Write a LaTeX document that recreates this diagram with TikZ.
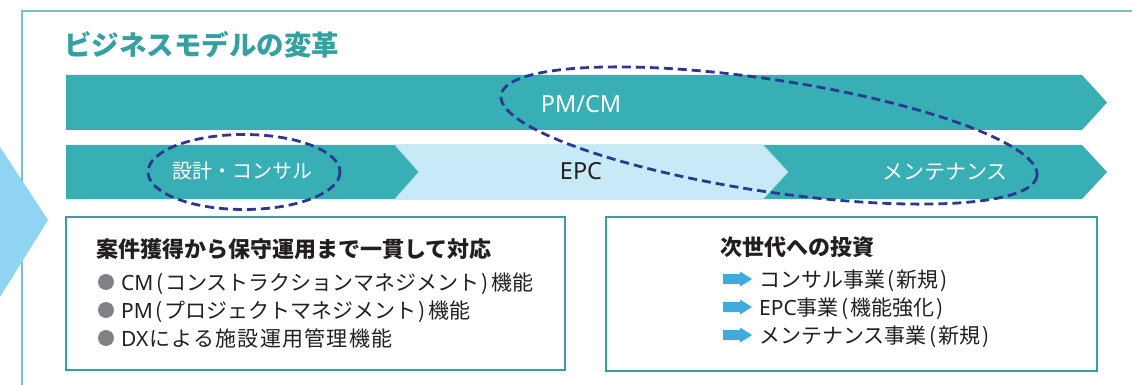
\documentclass[tikz,border=0pt]{standalone}
\usepackage{fontspec}
\setmainfont{Noto Sans CJK JP}
\newfontfamily\lat{Noto Sans}
\newfontfamily\widecjk{Noto Sans CJK JP}[LetterSpace=6]
\newcommand\myLP{\kern2.5pt(\kern2pt}
\newcommand\myRP{\kern2pt)\kern2.5pt}
\definecolor{bandteal}{HTML}{38AEB5}
\definecolor{epcblue}{HTML}{C8E9F8}
\definecolor{tri}{HTML}{8FD5F3}
\definecolor{framec}{HTML}{7CC0C3}
\definecolor{titlec}{HTML}{35A0A2}
\definecolor{boxc}{HTML}{3A9E9F}
\definecolor{navy}{HTML}{2B3A8F}
\definecolor{bulletc}{HTML}{808285}
\definecolor{arrowc}{HTML}{3FA9E0}
\definecolor{txt}{HTML}{231F20}
\tikzset{
  bandshape/.style={fill=bandteal},
  epcshape/.style={fill=epcblue, draw=white!60!bandteal, line width=0.8pt},
  ovaldash/.style={draw=navy, line width=2.8pt, dash pattern=on 9pt off 5pt},
  infobox/.style={draw=boxc, line width=2pt},
  lbl/.style={inner sep=0pt, anchor=base},
  itemtxt/.style={inner sep=0pt, anchor=base west, text=txt, font=\fontsize{21pt}{25pt}\selectfont},
  headtxt/.style={inner sep=0pt, anchor=base west, text=txt, font=\bfseries\fontsize{22pt}{26pt}\selectfont},
  bulletdot/.style={circle, fill=bulletc, inner sep=0pt, minimum size=16pt},
  bluearrow/.style={fill=arrowc}
}
\begin{document}
\begin{tikzpicture}[x=1pt,y=-1pt]
\useasboundingbox (0,0) rectangle (1132,385);
% frame
\draw[framec, line width=1.2pt] (22,385) -- (22,11) -- (1132,11);
\fill[tri] (0,147) -- (48,220) -- (0,297) -- cycle;
% title
\node[inner sep=0pt, anchor=base west, text=titlec, font=\bfseries\fontsize{27.5pt}{30pt}\selectfont] (title) at (64,55.5) {ビジネスモデルの変革};
% bands
\fill[bandshape] (66,75) -- (1082,75) -- (1107,102.5) -- (1082,130) -- (66,130) -- cycle;
\fill[bandshape] (66,145) -- (1082,145) -- (1107,172) -- (1082,199) -- (66,199) -- cycle;
\path[epcshape] (395,145) -- (763,145) -- (788,172) -- (763,199) -- (395,199) -- (419,172) -- cycle;
\node[lbl, text=white, font=\lat\fontsize{23.5pt}{26pt}\selectfont] (pmcm) at (581,112.5) {PM/CM};
\node[lbl, text=txt, font=\lat\fontsize{23.5pt}{26pt}\selectfont] (epc) at (581,179) {EPC};
\node[lbl, text=white, font=\fontsize{21pt}{25pt}\selectfont] (maint) at (945,179) {メンテナンス};
\node[lbl, text=white, font=\fontsize{20pt}{24pt}\selectfont] (design) at (242,178.5) {設計・コンサル};
% dashed ovals
\draw[ovaldash] (244,172) ellipse [x radius=96, y radius=37.5];
\draw[ovaldash, rotate around={-8.6:(769,135.5)}] (769,135.5) ellipse [x radius=271, y radius=56];
% left box
\draw[infobox] (66,217) rectangle (565,370);
\node[headtxt] (lhead) at (96,257) {案件獲得から保守運用まで一貫して対応};
\node[bulletdot] (b1) at (106,282) {};
\node[bulletdot] (b2) at (106,310) {};
\node[bulletdot] (b3) at (106,338) {};
\node[itemtxt] (l1) at (121,290) {{\lat CM}\myLP コンストラクションマネジメント\myRP 機能};
\node[itemtxt] (l2) at (121,318) {{\lat PM}\myLP プロジェクトマネジメント\myRP 機能};
\node[itemtxt] (l3) at (121,346) {{\lat DX}\kern1pt{\widecjk\fontsize{21pt}{25pt}\selectfont による施設運用管理機能}};
% right box
\draw[infobox] (606,217) rectangle (1097,371);
\node[headtxt] (rhead) at (720,255) {次世代への投資};
\foreach \yy in {279,307,335}{
  \fill[bluearrow] (723,\yy-5) -- (740,\yy-5) -- (740,\yy-7.5) -- (752,\yy) -- (740,\yy+7.5) -- (740,\yy+5) -- (723,\yy+5) -- cycle;
}
\node[itemtxt] (r1) at (759,287) {コンサル事業\myLP 新規\myRP};
\node[itemtxt] (r2) at (759,315) {{\lat EPC}事業\myLP 機能強化\myRP};
\node[itemtxt] (r3) at (759,343) {メンテナンス事業\myLP 新規\myRP};
\end{tikzpicture}
\end{document}
